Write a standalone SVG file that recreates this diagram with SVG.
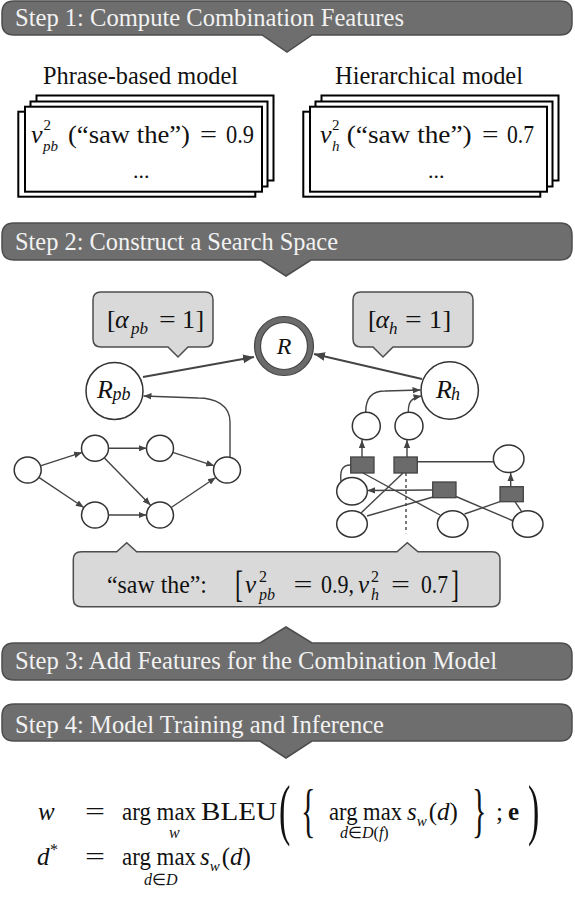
<svg xmlns="http://www.w3.org/2000/svg" width="575" height="899" viewBox="0 0 575 899">
<style>
.ban{fill:#6e6e6e;stroke:#4d4d4d;stroke-width:1.5}
.bt{font-family:'Liberation Serif','Times New Roman',serif;font-size:26px;fill:#f2f2f2}
.t{font-family:'Liberation Serif','Times New Roman',serif;fill:#111}
.i{font-style:italic}
.b{font-weight:bold}
.call{fill:#d9d9d9;stroke:#4d4d4d;stroke-width:1.5}
.pg{fill:#fff;stroke:#000;stroke-width:2}
.nd{fill:#fff;stroke:#333;stroke-width:1.5}
.bx{fill:#6b6b6b;stroke:#444;stroke-width:1.3}
.e{fill:none;stroke:#444;stroke-width:1.4}
.m{fill:none;stroke:#444;stroke-width:1.8}
</style>
<defs>
<marker id="ah" viewBox="0 0 10 10" refX="10" refY="5" markerWidth="8" markerHeight="8" markerUnits="userSpaceOnUse" orient="auto"><path d="M0,1 L10,5 L0,9 z" fill="#444"/></marker>
<marker id="ah2" viewBox="0 0 10 10" refX="10" refY="5" markerWidth="11" markerHeight="11" markerUnits="userSpaceOnUse" orient="auto"><path d="M0,1 L10,5 L0,9 z" fill="#444"/></marker>
</defs>

<g id="step1">
<path class="ban" d="M14 1 H560 Q572 1 572 13 V23 Q572 35 560 35 H312 L287 52 L262 35 H14 Q2 35 2 23 V13 Q2 1 14 1 Z"/>
<text class="bt" x="15" y="26" textLength="389" lengthAdjust="spacingAndGlyphs">Step 1: Compute Combination Features</text>
</g>

<g id="pb-features">
<text class="t" x="43" y="84" font-size="25.5" textLength="195" lengthAdjust="spacingAndGlyphs">Phrase-based model</text>
<rect class="pg" x="36.5" y="95.5" width="237" height="85"/>
<rect class="pg" x="30.5" y="101.5" width="237" height="85"/>
<rect class="pg" x="18.3" y="111.7" width="237" height="85"/>
<rect class="pg" x="25" y="106.7" width="237" height="85"/>
<text class="t i" x="31" y="143" font-size="26">v</text>
<text class="t" x="43.5" y="130" font-size="15">2</text>
<text class="t i" x="43" y="151" font-size="15">pb</text>
<text class="t" x="68" y="143" font-size="26" textLength="122" lengthAdjust="spacingAndGlyphs">(“saw the”)</text>
<text class="t" x="200" y="143" font-size="26" textLength="17" lengthAdjust="spacingAndGlyphs">=</text>
<text class="t" x="226" y="143" font-size="26" textLength="28" lengthAdjust="spacingAndGlyphs">0.9</text>
<text class="t" x="133" y="178" font-size="22">...</text>
</g>

<g id="h-features">
<text class="t" x="335" y="84" font-size="25.5" textLength="188" lengthAdjust="spacingAndGlyphs">Hierarchical model</text>
<rect class="pg" x="321.5" y="95.5" width="237" height="85"/>
<rect class="pg" x="315.5" y="101.5" width="237" height="85"/>
<rect class="pg" x="303.3" y="111.7" width="237" height="85"/>
<rect class="pg" x="310" y="106.7" width="237" height="85"/>
<text class="t i" x="320" y="143" font-size="26">v</text>
<text class="t" x="332" y="130" font-size="15">2</text>
<text class="t i" x="332" y="151" font-size="15">h</text>
<text class="t" x="346.7" y="143" font-size="26" textLength="125" lengthAdjust="spacingAndGlyphs">(“saw the”)</text>
<text class="t" x="482" y="143" font-size="26" textLength="16.5" lengthAdjust="spacingAndGlyphs">=</text>
<text class="t" x="507" y="143" font-size="26" textLength="27" lengthAdjust="spacingAndGlyphs">0.7</text>
<text class="t" x="428" y="178" font-size="22">...</text>
</g>

<g id="step2">
<path class="ban" d="M14 223 H560 Q572 223 572 235 V248 Q572 260 560 260 H311 L286 276 L261 260 H14 Q2 260 2 248 V235 Q2 223 14 223 Z"/>
<text class="bt" x="15" y="250" textLength="323" lengthAdjust="spacingAndGlyphs">Step 2: Construct a Search Space</text>
</g>

<g id="alpha-pb">
<path class="call" d="M101 292 H205 Q213 292 213 300 V339 Q213 347 205 347 H188 L178 357 L168 347 H101 Q93 347 93 339 V300 Q93 292 101 292 Z"/>
<text class="t" x="107" y="328" font-size="26">[</text>
<text class="t i" x="115" y="328" font-size="26">α</text>
<text class="t i" x="131" y="334" font-size="17">pb</text>
<text class="t" x="159" y="328" font-size="26" textLength="16.7" lengthAdjust="spacingAndGlyphs">=</text>
<text class="t" x="182" y="328" font-size="26">1</text>
<text class="t" x="195.5" y="328" font-size="26">]</text>
</g>

<g id="alpha-h">
<path class="call" d="M361 292 H465 Q473 292 473 300 V339 Q473 347 465 347 H393 L383 357 L373 347 H361 Q353 347 353 339 V300 Q353 292 361 292 Z"/>
<text class="t" x="368" y="328" font-size="26">[</text>
<text class="t i" x="375.5" y="328" font-size="26">α</text>
<text class="t i" x="389" y="334" font-size="17">h</text>
<text class="t" x="405" y="328" font-size="26" textLength="16.7" lengthAdjust="spacingAndGlyphs">=</text>
<text class="t" x="429" y="328" font-size="26">1</text>
<text class="t" x="442.5" y="328" font-size="26">]</text>
</g>

<g id="R">
<circle cx="284" cy="346" r="26.5" fill="#fff" stroke="#6b6b6b" stroke-width="6"/>
<circle cx="284" cy="346" r="29.5" fill="none" stroke="#444" stroke-width="1.2"/>
<circle cx="284" cy="346" r="23.5" fill="none" stroke="#444" stroke-width="1.2"/>
<text class="t i" x="284" y="354" font-size="24" text-anchor="middle">R</text>
</g>

<g id="Rpb">
<circle class="nd" cx="114.5" cy="391" r="28.5"/>
<text class="t i" x="97" y="398" font-size="26">R</text>
<text class="t i" x="112.5" y="400" font-size="18">pb</text>
</g>

<g id="Rh">
<circle class="nd" cx="449.7" cy="390.5" r="28.7"/>
<text class="t i" x="436" y="398" font-size="26">R</text>
<text class="t i" x="451" y="400" font-size="18">h</text>
</g>

<g id="pb-lattice">
<ellipse class="nd" cx="27.7" cy="470" rx="13.5" ry="13"/>
<ellipse class="nd" cx="95" cy="448.3" rx="13.5" ry="13"/>
<ellipse class="nd" cx="160" cy="448.3" rx="13.5" ry="13"/>
<ellipse class="nd" cx="95" cy="515" rx="13.5" ry="13"/>
<ellipse class="nd" cx="160" cy="515" rx="13.5" ry="13"/>
<ellipse class="nd" cx="227" cy="470" rx="13.5" ry="13"/>
</g>

<g id="h-hypergraph">
<ellipse class="nd" cx="366.3" cy="426" rx="14" ry="13.8"/>
<ellipse class="nd" cx="409" cy="426" rx="14" ry="13.8"/>
<ellipse class="nd" cx="508.7" cy="458.8" rx="15.3" ry="13.8"/>
<ellipse class="nd" cx="352" cy="491.3" rx="15.3" ry="13.7"/>
<ellipse class="nd" cx="352" cy="524" rx="15.3" ry="13.3"/>
<ellipse class="nd" cx="452.7" cy="524" rx="15.3" ry="13.3"/>
<ellipse class="nd" cx="527.7" cy="524" rx="15.3" ry="13.3"/>
<rect class="bx" x="350.7" y="457" width="23.3" height="16"/>
<rect class="bx" x="394" y="457" width="23.3" height="16"/>
<rect class="bx" x="432.7" y="482" width="23.3" height="15.7"/>
<rect class="bx" x="500" y="486.7" width="23.3" height="15"/>
</g>

<g id="connectors">
<line class="m" x1="143" y1="377" x2="254" y2="357" marker-end="url(#ah2)"/>
<line class="m" x1="422" y1="379" x2="314" y2="354" marker-end="url(#ah2)"/>
<line class="e" x1="40.4" y1="465.9" x2="82.1" y2="452.4" marker-end="url(#ah)"/>
<line class="e" x1="38.8" y1="477.4" x2="83.8" y2="507.5" marker-end="url(#ah)"/>
<line class="e" x1="108.5" y1="448.3" x2="146.5" y2="448.3" marker-end="url(#ah)"/>
<line class="e" x1="104.4" y1="457.9" x2="150.6" y2="505.3" marker-end="url(#ah)"/>
<line class="e" x1="172.8" y1="452.4" x2="214.2" y2="465.8" marker-end="url(#ah)"/>
<line class="e" x1="108.5" y1="515" x2="146.5" y2="515" marker-end="url(#ah)"/>
<line class="e" x1="171.2" y1="507.5" x2="215.8" y2="477.5" marker-end="url(#ah)"/>
<path class="e" d="M230 457 V422 C230 405 215 398 198 398 L143.5 396" marker-end="url(#ah)"/>
<line class="e" x1="362" y1="457" x2="362" y2="440" marker-end="url(#ah)"/>
<line class="e" x1="407" y1="457" x2="407" y2="440" marker-end="url(#ah)"/>
<path class="e" d="M365.7 412 C365.7 398 372 391 385 391 L420.5 390" marker-end="url(#ah)"/>
<path class="e" d="M408.3 412 C408.3 402 411 398 421.5 396" marker-end="url(#ah)"/>
<line class="e" x1="417.3" y1="461.7" x2="493.5" y2="461.7"/>
<line class="e" x1="510.7" y1="486.7" x2="510.7" y2="473" marker-end="url(#ah)"/>
<path class="e" d="M350.7 465 C341 465 340 472 341 482"/>
<line class="e" x1="432.7" y1="490" x2="367.3" y2="490.5" marker-end="url(#ah)"/>
<line class="e" x1="363" y1="473" x2="440" y2="515"/>
<line class="e" x1="403" y1="473" x2="361" y2="513"/>
<line class="e" x1="367" y1="516" x2="433" y2="497"/>
<line class="e" x1="456" y1="496.5" x2="513.5" y2="521"/>
<line class="e" x1="464.5" y1="514" x2="500" y2="501.7"/>
<line class="e" x1="515" y1="501.7" x2="521.7" y2="511.7"/>
<line class="e" x1="406" y1="473" x2="406" y2="533.3" stroke-dasharray="3,3"/>
</g>

<g id="combined">
<path class="call" d="M81.3 551.7 H116.7 L126.7 542.7 L136.7 551.7 H397 L407.3 542.7 L418 551.7 H492 Q500 551.7 500 559.7 V598.7 Q500 606.7 492 606.7 H81.3 Q73.3 606.7 73.3 598.7 V559.7 Q73.3 551.7 81.3 551.7 Z"/>
<text class="t" x="107" y="593" font-size="25" textLength="100" lengthAdjust="spacingAndGlyphs">“saw the”:</text>
<text class="t" transform="translate(235,597) scale(1,1.6)" font-size="24">[</text>
<text class="t i" x="245" y="593" font-size="25">v</text>
<text class="t" x="259" y="582" font-size="16">2</text>
<text class="t i" x="259" y="600" font-size="16">pb</text>
<text class="t" x="293.6" y="593" font-size="25" textLength="19" lengthAdjust="spacingAndGlyphs">=</text>
<text class="t" x="321" y="593" font-size="25" textLength="33" lengthAdjust="spacingAndGlyphs">0.9,</text>
<text class="t i" x="358" y="593" font-size="25">v</text>
<text class="t" x="371" y="582" font-size="16">2</text>
<text class="t i" x="371" y="600" font-size="16">h</text>
<text class="t" x="391" y="593" font-size="25" textLength="19" lengthAdjust="spacingAndGlyphs">=</text>
<text class="t" x="421" y="593" font-size="25" textLength="27" lengthAdjust="spacingAndGlyphs">0.7</text>
<text class="t" transform="translate(451,597) scale(1,1.6)" font-size="24">]</text>
</g>

<g id="step3">
<path class="ban" d="M14 643 H260 L286 627 L312 643 H560 Q572 643 572 655 V668 Q572 680 560 680 H14 Q2 680 2 668 V655 Q2 643 14 643 Z"/>
<text class="bt" x="15" y="669" textLength="482" lengthAdjust="spacingAndGlyphs">Step 3: Add Features for the Combination Model</text>
</g>

<g id="step4">
<path class="ban" d="M14 704 H560 Q572 704 572 716 V729 Q572 741 560 741 H312 L286 758 L260 741 H14 Q2 741 2 729 V716 Q2 704 14 704 Z"/>
<text class="bt" x="15" y="733" textLength="369" lengthAdjust="spacingAndGlyphs">Step 4: Model Training and Inference</text>
</g>

<g id="equations">
<text class="t i" x="38" y="820" font-size="25">w</text>
<text class="t" x="85" y="820" font-size="25" textLength="20" lengthAdjust="spacingAndGlyphs">=</text>
<text class="t" x="122" y="820" font-size="25" textLength="74" lengthAdjust="spacingAndGlyphs">arg max</text>
<text class="t i" x="169" y="838" font-size="16">w</text>
<text class="t" x="201" y="820" font-size="26" textLength="76" lengthAdjust="spacingAndGlyphs">BLEU</text>
<text class="t" transform="translate(279,832) scale(1,2)" font-size="34">(</text>
<text class="t" transform="translate(301,830) scale(1,2)" font-size="30">{</text>
<text class="t" x="329" y="820" font-size="25" textLength="73" lengthAdjust="spacingAndGlyphs">arg max</text>
<text class="t" x="340" y="838" font-size="16"><tspan class="i">d</tspan>∈<tspan class="i">D</tspan>(<tspan class="i">f</tspan>)</text>
<text class="t" x="407" y="820" font-size="25"><tspan class="i">s</tspan><tspan class="i" font-size="15" dy="6">w</tspan><tspan dx="2" dy="-6">(</tspan><tspan class="i">d</tspan>)</text>
<text class="t" transform="translate(472,830) scale(1,2)" font-size="30">}</text>
<text class="t" x="496" y="820" font-size="25">;</text>
<text class="t b" x="508" y="820" font-size="25">e</text>
<text class="t" transform="translate(528,832) scale(1,2)" font-size="34">)</text>
<text class="t i" x="37" y="865" font-size="25">d</text>
<text class="t" x="50" y="855" font-size="16">*</text>
<text class="t" x="85" y="865" font-size="25" textLength="20" lengthAdjust="spacingAndGlyphs">=</text>
<text class="t" x="122" y="865" font-size="25" textLength="74" lengthAdjust="spacingAndGlyphs">arg max</text>
<text class="t" x="144" y="885" font-size="16"><tspan class="i">d</tspan>∈<tspan class="i">D</tspan></text>
<text class="t" x="200" y="865" font-size="25"><tspan class="i">s</tspan><tspan class="i" font-size="15" dy="6">w</tspan><tspan dx="2" dy="-6">(</tspan><tspan class="i">d</tspan>)</text>
</g>
</svg>
